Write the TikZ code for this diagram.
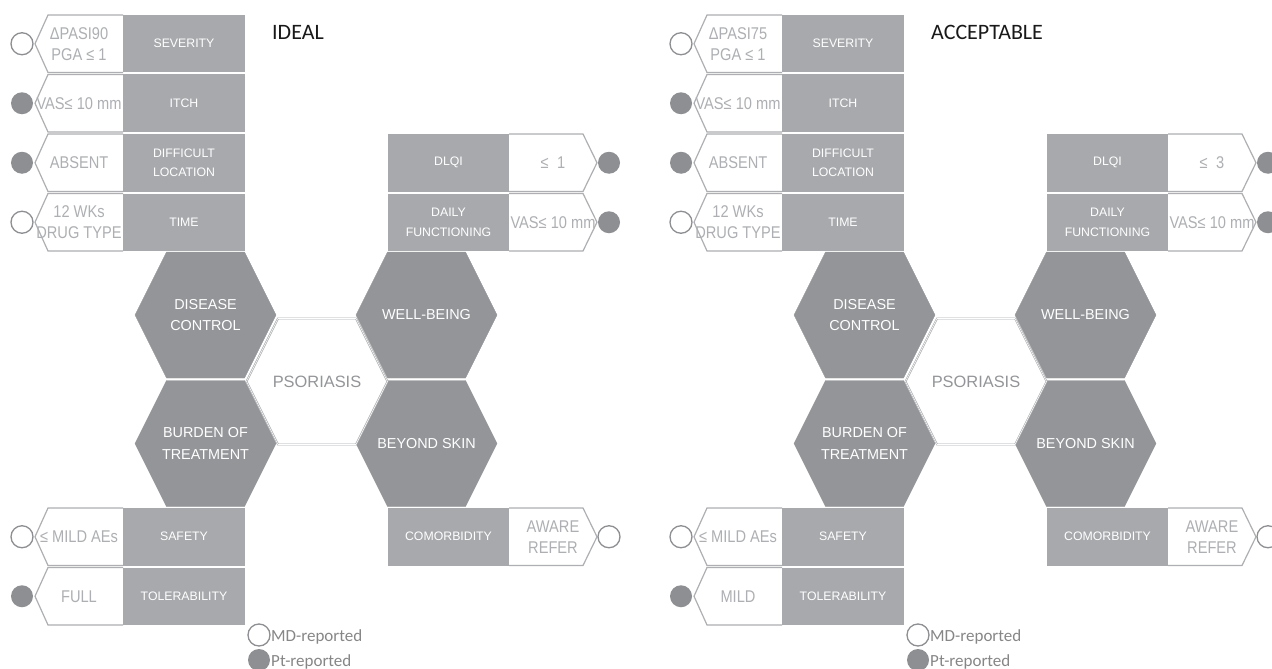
\documentclass[tikz,border=0pt]{standalone}
\usepackage{fontspec}
\setmainfont{Liberation Sans}
\newfontfamily\titlefont{Carlito}
\newfontfamily\tagfont[FakeStretch=0.86]{Liberation Sans}
\usetikzlibrary{positioning,calc}
\definecolor{boxgrey}{HTML}{A7A9AC}
\definecolor{hexgrey}{HTML}{939598}
\definecolor{dotgrey}{HTML}{8E8F92}
\definecolor{taggrey}{HTML}{ADAFB2}
\definecolor{keygrey}{HTML}{868686}
\tikzset{
	boxtext/.style={text=white, font=\fontsize{12.3}{19.5}\selectfont, align=center, inner sep=0pt},
	tagtext/.style={text=taggrey, font=\tagfont\fontsize{17}{21}\selectfont, align=center, inner sep=0pt},
	hextext/.style={text=white, font=\fontsize{14.4}{21.5}\selectfont, align=center, inner sep=0pt},
	keytext/.style={text=keygrey, font=\titlefont\fontsize{17}{20}\selectfont, inner sep=0pt, anchor=base west},
	tagline/.style={draw=taggrey, fill=white, line width=1.2pt},
	mdcirc/.style={draw=dotgrey, fill=white, line width=1.3pt},
	ptcirc/.style={fill=dotgrey},
	pics/hexa/.style={code={
		\filldraw[#1] (-70.5,0) -- (-39,-63) -- (39,-63) -- (70.5,0) -- (39,63) -- (-39,63) -- cycle;
	}},
	pics/panel/.style n args={4}{code={
		% left column
		\foreach \y/\nm/\lab/\val/\st in {15/sev/SEVERITY/{ΔPASI#2\\PGA ≤ 1}/mdcirc, 74.5/itch/ITCH/{VAS≤ 10 mm}/ptcirc, 134/loc/{DIFFICULT\\LOCATION}/ABSENT/ptcirc, 193.5/time/TIME/{12 WKs\\DRUG TYPE}/mdcirc, 508/safe/SAFETY/{≤ MILD AEs}/mdcirc, 567.5/tol/TOLERABILITY/#4/ptcirc} {
			\filldraw[tagline] (123,\y) -- (48,\y) -- (35,\y+28.75) -- (48,\y+57.5) -- (123,\y+57.5);
			\fill[boxgrey] (123,\y) rectangle (245,\y+57.5);
			\node[boxtext] (-\nm) at (184,\y+28.75) {\lab};
			\node[tagtext] (-\nm v) at (79,\y+28.75) {\val};
			\path[\st] (22,\y+28.75) circle (11);}
		% right column
		\foreach \y/\nm/\lab/\val/\st in {134/dlqi/DLQI/{≤\enspace#3}/ptcirc, 193.5/daily/{DAILY\\FUNCTIONING}/{VAS≤ 10 mm}/ptcirc, 508/comor/COMORBIDITY/{AWARE\\REFER}/mdcirc} {
			\filldraw[tagline] (509,\y) -- (583,\y) -- (597,\y+28.75) -- (583,\y+57.5) -- (509,\y+57.5);
			\fill[boxgrey] (388,\y) rectangle (509,\y+57.5);
			\node[boxtext] (-\nm) at (448.5,\y+28.75) {\lab};
			\node[tagtext] (-\nm v) at (553,\y+28.75) {\val};
			\path[\st] (609,\y+28.75) circle (11);}
		% honeycomb
		\pic at (205.5,315) {hexa=hexgrey};
		\pic at (205.5,443.5) {hexa=hexgrey};
		\pic at (426.5,315) {hexa=hexgrey};
		\pic at (426.5,443.5) {hexa=hexgrey};
		\pic at (317,381.5) {hexa={fill=white, draw=boxgrey, line width=0.6pt, double=white, double distance=0.6pt}};
		\node[hextext] (-dc) at (205.5,315) {DISEASE\\CONTROL};
		\node[hextext] (-bt) at (205.5,443.5) {BURDEN OF\\TREATMENT};
		\node[hextext] (-wb) at (426.5,315) {WELL-BEING};
		\node[hextext] (-bs) at (426.5,443.5) {BEYOND SKIN};
		\node[hextext, text=hexgrey, font=\fontsize{16.4}{20}\selectfont] (-pso) at (317,381.5) {PSORIASIS};
		% title and key
		\node[keytext, text=black!90, font=\titlefont\fontsize{22}{24}\selectfont] (-title) at (272,40) {#1};
		\path[mdcirc] (259,635) circle (11);
		\path[ptcirc] (259,660) circle (11);
		\node[keytext] (-md) at (271,641) {MD-reported};
		\node[keytext] (-pt) at (271,666) {Pt-reported};
	}}
}
\begin{document}
\begin{tikzpicture}[x=1pt, y=-1pt]
	\useasboundingbox (0,0) rectangle (1272,669);
	\clip (0,0) rectangle (1272,669);
	\pic (ideal) at (0,0) {panel={IDEAL}{90}{1}{FULL}};
	\pic (accept) at (659,0) {panel={ACCEPTABLE}{75}{3}{MILD}};
\end{tikzpicture}
\end{document}
